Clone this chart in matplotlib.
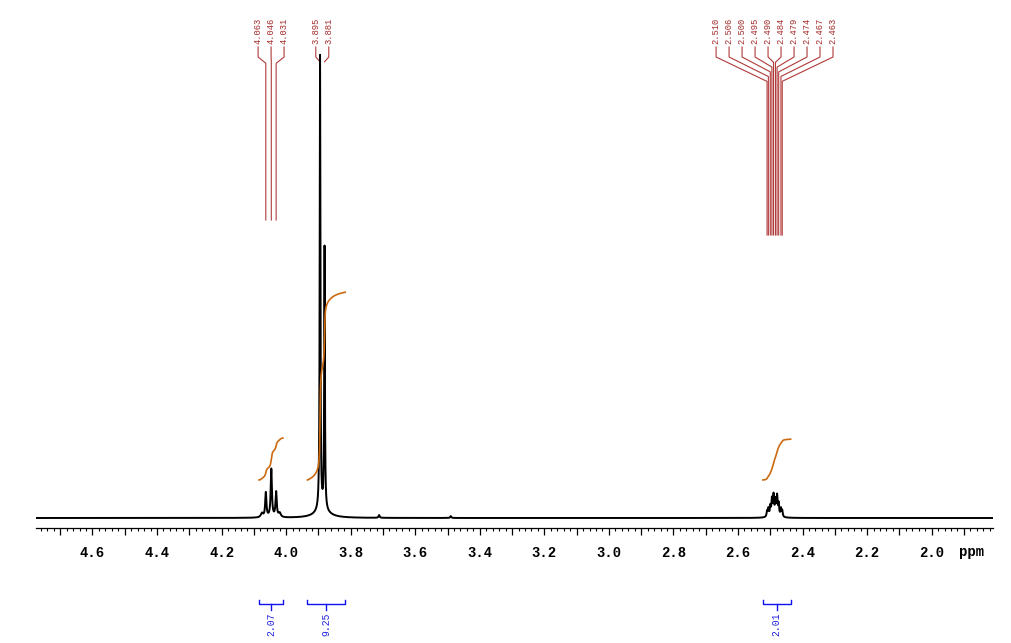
import matplotlib
matplotlib.use('Agg')
import matplotlib.pyplot as plt
import numpy as np
from matplotlib.ticker import MultipleLocator, FuncFormatter

# Picos do espectro: deslocamento (ppm), altura (% do maior) e largura (ppm).
pico_ppm = [4.075, 4.063, 4.046, 4.031, 4.020,
            3.895, 3.881, 3.888,
            3.712, 3.490,
            2.510, 2.506, 2.500, 2.495, 2.490, 2.484, 2.479, 2.474, 2.467, 2.463, 2.487]
pico_alt = [0.9, 5.3, 10.4, 5.4, 0.9,
            98.2, 56.6, 1.6,
            0.6, 0.4,
            1.2, 1.7, 2.1, 3.4, 4.1, 3.0, 4.1, 2.6, 1.7, 1.3, 0.6]
pico_larg = [0.008, 0.0045, 0.0045, 0.0045, 0.008,
             0.0025, 0.0025, 0.05,
             0.004, 0.004,
             0.0035, 0.0035, 0.0035, 0.0035, 0.0035, 0.0035, 0.0035, 0.0035, 0.0035, 0.0035, 0.02]

# Rótulos dos picos, por multipleto.
grupos = [
    [4.063, 4.046, 4.031],
    [3.895, 3.881],
    [2.510, 2.506, 2.500, 2.495, 2.490, 2.484, 2.479, 2.474, 2.467, 2.463],
]

# Integrais: limites (ppm) e valores.
integ_ini = [4.084, 3.934, 2.523]
integ_fim = [4.010, 3.817, 2.437]
integ_val = ['2.07', '9.25', '2.01']

X_MIN, X_MAX = 1.81, 4.775
PX_PPM = 323.0          # pixels por ppm
PX_Y = 4.63             # pixels por unidade de intensidade
BASE = 518              # linha de base (pixel a partir do topo)


def ytop(px):
    # converte posição em pixel (a partir do topo) para intensidade
    return (BASE - px) / PX_Y


def espectro(x):
    y = np.zeros_like(x)
    for p, h, w in zip(pico_ppm, pico_alt, pico_larg):
        y += h / (1 + (2 * (x - p) / w) ** 2)
    return y


def gera_grafico():
    fig = plt.figure(figsize=(10.12, 6.43), dpi=100)
    ax = fig.add_axes([36 / 1012, (643 - 528) / 643, (993 - 36) / 1012, 528 / 643])
    x = np.linspace(X_MAX, X_MIN, 30000)
    y = espectro(x)
    ax.plot(x, y, color='black', lw=1.4, zorder=3)

    # integrais
    for a, b, v in zip(integ_ini, integ_fim, integ_val):
        m = (x <= a) & (x >= b)
        c = np.cumsum(y[m])
        c = c / c[-1] * float(v) * 20.3 / PX_Y + 38 / PX_Y
        ax.plot(x[m], c, color='#CC6A10', lw=1.2, zorder=4)
        # colchete e valor abaixo do eixo
        kw = dict(color='#1010F0', lw=1.0, clip_on=False)
        ax.plot([a, a, b, b], [ytop(600), ytop(604), ytop(604), ytop(600)], **kw)
        meio = (a + b) / 2
        ax.plot([meio, meio], [ytop(604), ytop(610)], **kw)
        ax.text(meio, ytop(613), v, rotation=90, ha='center', va='top',
                color='#2020E0', fontsize=7, family='Liberation Mono', clip_on=False)

    # rótulos dos picos
    passo = 13 / PX_PPM
    fundo = [ytop(220), None, ytop(235)]
    cor = '#B03A3A'
    for g, f in zip(grupos, fundo):
        n = len(g)
        centro = np.mean(g)
        for i, p in enumerate(g):
            lx = centro + ((n - 1) / 2 - i) * passo
            ax.text(lx, ytop(44), f'{p:.3f}', rotation=90, ha='center', va='bottom',
                    color='#A52A2A', fontsize=6.3, family='Liberation Mono')
            dx = abs(lx - p) * PX_PPM
            y1 = ytop(57)
            y2 = ytop(57 + 3 + 0.42 * dx)
            xs = [lx, lx, p]
            ys = [ytop(47), y1, y2]
            if f is not None:
                xs.append(p)
                ys.append(f)
            ax.plot(xs, ys, color=cor, lw=0.8, zorder=2)

    ax.set_xlim(X_MAX, X_MIN)
    ax.set_ylim(ytop(528), ytop(0))
    for s in ['top', 'left', 'right']:
        ax.spines[s].set_visible(False)
    ax.spines['bottom'].set_linewidth(0.9)
    ax.set_yticks([])
    ax.xaxis.set_major_locator(MultipleLocator(0.1))
    ax.xaxis.set_minor_locator(MultipleLocator(0.02))
    ax.xaxis.set_major_formatter(FuncFormatter(
        lambda v, _: f'{v:.1f}' if round(v * 10) % 2 == 0 else ''))
    ax.tick_params(axis='x', which='major', length=5, width=0.9, pad=8)
    ax.tick_params(axis='x', which='minor', length=2.3, width=0.8)
    for t in ax.get_xticklabels():
        t.set_family('Liberation Mono')
        t.set_fontweight('bold')
        t.set_fontsize(10)
    ax.text(1.876, ytop(552), 'ppm', ha='center', va='center', fontsize=10,
            family='Liberation Mono', fontweight='bold', clip_on=False)

    fig.savefig('out.png', dpi=100)


def main():
    gera_grafico()


if __name__ == '__main__':
    main()
